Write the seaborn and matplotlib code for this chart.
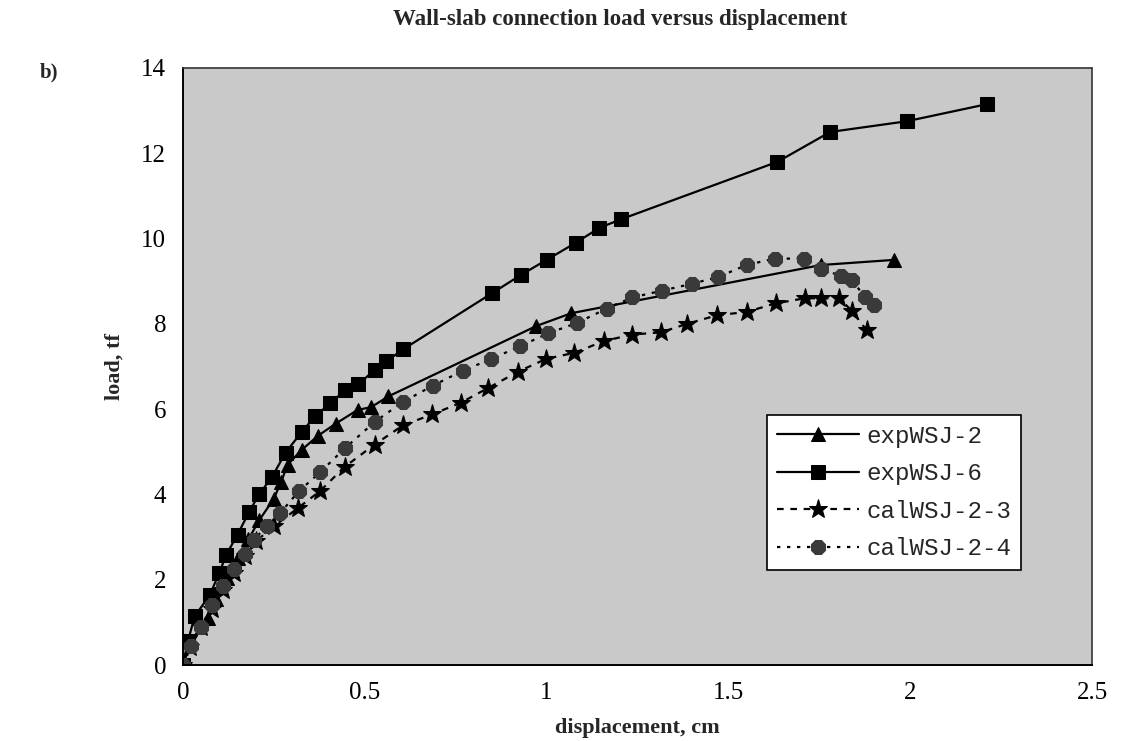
import numpy as np
import pandas as pd
import matplotlib
matplotlib.use("Agg")
import matplotlib.pyplot as plt
import seaborn as sns

# ---- data ----
exp2_x = [0, 0.023, 0.068, 0.09, 0.12, 0.15, 0.18, 0.21, 0.25, 0.27, 0.288, 0.327, 0.372, 0.42, 0.48, 0.518, 0.565, 0.972, 1.068, 1.755, 1.955]
exp2_y = [0, 0.57, 1.1, 1.55, 2.05, 2.5, 2.95, 3.4, 3.9, 4.3, 4.7, 5.05, 5.38, 5.66, 5.98, 6.05, 6.3, 7.95, 8.25, 9.38, 9.5]

exp6_x = [0, 0.014, 0.032, 0.073, 0.10, 0.118, 0.15, 0.182, 0.209, 0.245, 0.282, 0.327, 0.364, 0.405, 0.445, 0.482, 0.527, 0.559, 0.605, 0.85, 0.93, 1.0, 1.08, 1.145, 1.204, 1.635, 1.78, 1.99, 2.21]
exp6_y = [0, 0.57, 1.14, 1.63, 2.16, 2.57, 3.06, 3.59, 4.0, 4.41, 4.98, 5.47, 5.84, 6.14, 6.44, 6.58, 6.92, 7.12, 7.4, 8.72, 9.15, 9.5, 9.9, 10.25, 10.45, 11.8, 12.5, 12.75, 13.15]

cal23_x = [0, 0.02, 0.05, 0.08, 0.11, 0.14, 0.17, 0.2, 0.25, 0.316, 0.377, 0.445, 0.527, 0.605, 0.686, 0.764, 0.84, 0.922, 0.999, 1.076, 1.159, 1.236, 1.314, 1.386, 1.468, 1.55, 1.63, 1.71, 1.755, 1.805, 1.84, 1.88]
cal23_y = [0, 0.42, 0.88, 1.32, 1.75, 2.15, 2.55, 2.9, 3.25, 3.68, 4.08, 4.65, 5.17, 5.62, 5.88, 6.15, 6.5, 6.88, 7.18, 7.32, 7.6, 7.75, 7.8, 8.0, 8.2, 8.28, 8.48, 8.6, 8.6, 8.6, 8.3, 7.85]

cal24_x = [0, 0.023, 0.05, 0.08, 0.11, 0.14, 0.17, 0.195, 0.232, 0.268, 0.318, 0.377, 0.445, 0.527, 0.605, 0.687, 0.769, 0.846, 0.928, 1.005, 1.083, 1.166, 1.236, 1.318, 1.4, 1.472, 1.55, 1.627, 1.709, 1.754, 1.81, 1.84, 1.875, 1.9]
cal24_y = [0, 0.45, 0.9, 1.4, 1.85, 2.25, 2.6, 2.94, 3.27, 3.57, 4.07, 4.52, 5.08, 5.7, 6.17, 6.55, 6.9, 7.17, 7.48, 7.78, 8.02, 8.36, 8.62, 8.78, 8.94, 9.1, 9.38, 9.53, 9.53, 9.28, 9.13, 9.03, 8.63, 8.45]

series_names = ["expWSJ-2", "expWSJ-6", "calWSJ-2-3", "calWSJ-2-4"]
x_ticks = [0, 0.5, 1, 1.5, 2, 2.5]
x_ticklabels = ["0", "0.5", "1", "1.5", "2", "2.5"]
y_ticks = [0, 2, 4, 6, 8, 10, 12, 14]

title = "Wall-slab connection load versus displacement"
xlabel = "displacement, cm"
ylabel = "load, tf"

# ---- figure ----
sns.set_style("white")
plt.rcParams["font.family"] = ["Liberation Serif", "DejaVu Serif"]

fig = plt.figure(figsize=(11.23, 7.41), dpi=100)
ax = fig.add_axes([183 / 1123, 1 - 665 / 741, (1092 - 183) / 1123, (665 - 68) / 741])
ax.set_facecolor("#c9c9c9")

styles = [
    (exp2_x, exp2_y, "^", "-", "black", "black", 10.5),
    (exp6_x, exp6_y, "s", "-", "black", "black", 10),
    (cal23_x, cal23_y, "*", (0, (3, 3)), "black", "black", 14),
    (cal24_x, cal24_y, "8", (0, (1.5, 3)), "black", "#3a3a3a", 10.5),
]
for (xs, ys, mk, ls, lc, mc, ms), name in zip(styles, series_names):
    df = pd.DataFrame({"x": xs, "y": ys})
    sns.lineplot(data=df, x="x", y="y", ax=ax, sort=False, estimator=None,
                 color=lc, linestyle=ls, linewidth=1.6, marker=mk,
                 markersize=ms, markerfacecolor=mc, markeredgecolor=mc,
                 label=name)

ax.set_xlim(0, 2.5)
ax.set_ylim(0, 14)
ax.set_xticks(x_ticks)
ax.set_xticklabels(x_ticklabels)
ax.set_yticks(y_ticks)
ax.tick_params(axis="both", direction="in", length=4, width=1, labelsize=18, pad=12, colors="black")
ax.set_xlabel(xlabel, fontsize=16, fontweight="bold", labelpad=10)
ax.set_ylabel(ylabel, fontsize=16, fontweight="bold", labelpad=12)

for side in ["left", "bottom"]:
    ax.spines[side].set_color("black")
    ax.spines[side].set_linewidth(1.4)
for side in ["top", "right"]:
    ax.spines[side].set_color("#333333")
    ax.spines[side].set_linewidth(1.2)
    ax.spines[side].set_linestyle((0, (1, 1)))

leg = ax.legend(loc="upper left", bbox_to_anchor=(0.643, 0.419), frameon=True,
                fancybox=False, edgecolor="black", facecolor="white", framealpha=1,
                prop={"family": "Liberation Mono", "size": 17.4}, handlelength=3.4,
                handletextpad=0.3, borderpad=0.4, labelspacing=0.6, borderaxespad=0)
leg.get_frame().set_linewidth(1.2)

fig.text(620 / 1123, 1 - 20 / 741, title, ha="center", va="center", fontsize=16.5, fontweight="bold")
fig.text(40 / 1123, 1 - 72 / 741, "b)", ha="left", va="center", fontsize=15, fontweight="bold")

fig.savefig("out.png", dpi=100)
